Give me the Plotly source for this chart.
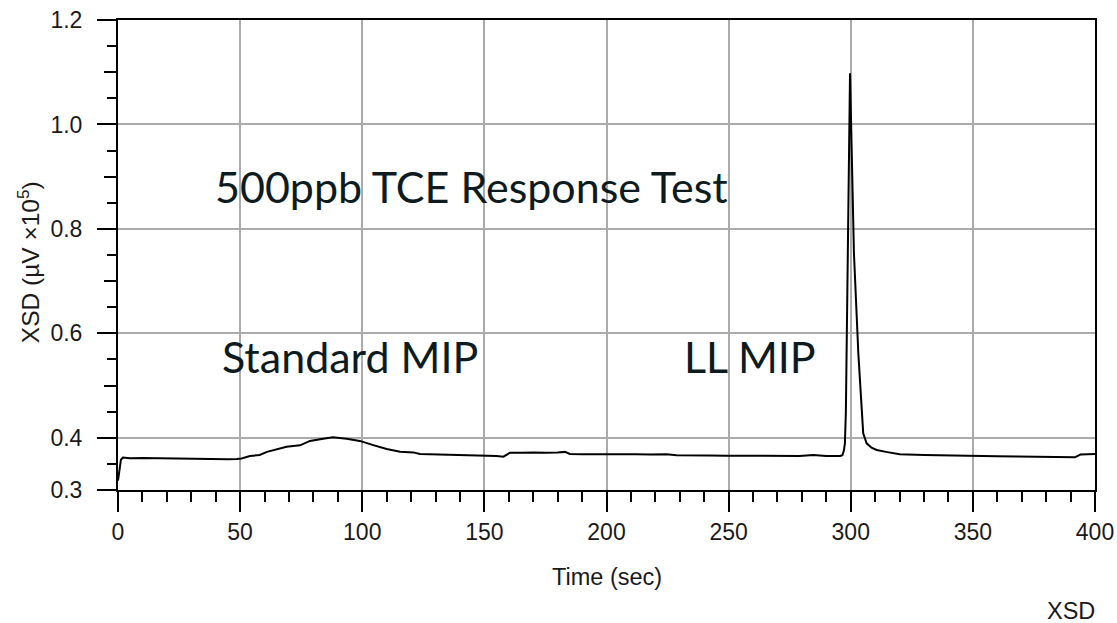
import plotly.graph_objects as go

# XSD detector trace, time in seconds vs signal (µV x 10^5)
time_s = [0, 0.6, 1.2, 2, 5, 10, 15, 20, 25, 30, 35, 40, 45, 48.6, 50.6, 54, 58, 61, 66, 69,
          74.5, 78.6, 84, 88, 93.6, 99, 104.5, 110, 115.5, 121, 123.6, 130, 136, 143, 150,
          155, 157.8, 159, 160.5, 165, 170, 175, 177, 180, 183, 185, 190, 197, 205, 212,
          218, 224.6, 228.7, 235, 242, 249, 257, 265.6, 272, 279, 284.7, 290, 295.6, 296.6,
          297.2, 297.6, 298.0, 298.3, 299.7, 301.3, 303.1, 305.1, 306.5, 308.5, 310.6, 315,
          320, 330, 340, 349.5, 360, 368, 374.8, 383, 391.8, 394, 397, 400]
signal = [0.318, 0.338, 0.358, 0.362, 0.361, 0.3615, 0.361, 0.3605, 0.361, 0.3603, 0.3595,
          0.3593, 0.359, 0.3592, 0.3605, 0.365, 0.367, 0.373, 0.380, 0.383, 0.3856, 0.394,
          0.398, 0.4009, 0.398, 0.394, 0.386, 0.3785, 0.3733, 0.372, 0.369, 0.3682, 0.3676,
          0.3672, 0.3664, 0.365, 0.3638, 0.367, 0.3714, 0.3712, 0.372, 0.3712, 0.371, 0.3718,
          0.373, 0.369, 0.3685, 0.3689, 0.368, 0.3684, 0.368, 0.3683, 0.3664, 0.3668, 0.3662,
          0.3657, 0.3655, 0.365, 0.3656, 0.3652, 0.367, 0.3652, 0.365, 0.3665, 0.376, 0.389,
          0.45, 0.562, 1.098, 0.754, 0.562, 0.4085, 0.3894, 0.381, 0.3766, 0.3725, 0.3683,
          0.3672, 0.366, 0.365, 0.3645, 0.3642, 0.3638, 0.3632, 0.3626, 0.368, 0.3685, 0.369]

y_tickvals = [0.3, 0.4, 0.6, 0.8, 1.0, 1.2]
y_ticktext = ["0.3", "0.4", "0.6", "0.8", "1.0", "1.2"]
y_midticks = [0.5, 0.7, 0.9, 1.1]
x_tickvals = [0, 50, 100, 150, 200, 250, 300, 350, 400]

ARIAL = "Liberation Sans, Arial, sans-serif"
AXIS_FONT = dict(family=ARIAL, size=23, color="#1a1a1a")
TITLE_FONT = dict(family=ARIAL, size=23.5, color="#1a1a1a")
NOTE_FONT = dict(family="Lato, Open Sans, sans-serif", size=43, color="#0d1b1e")
GRID = "#ababab"

fig = go.Figure()
fig.add_trace(go.Scatter(x=time_s, y=signal, mode="lines",
                         line=dict(color="black", width=2), showlegend=False))

fig.update_layout(
    width=1117, height=623,
    margin=dict(l=118, r=22, t=20, b=133),
    paper_bgcolor="white", plot_bgcolor="white",
    xaxis=dict(range=[0, 400], tickvals=x_tickvals, ticks="outside", ticklen=20,
               tickwidth=2, tickcolor="black", showline=True, linewidth=2,
               linecolor="black", mirror=True, showgrid=True, gridcolor=GRID,
               gridwidth=1.5, zeroline=False, tickfont=AXIS_FONT, automargin=False,
               minor=dict(dtick=10, tick0=0, ticks="outside", ticklen=10,
                          tickwidth=2, tickcolor="black", showgrid=False)),
    yaxis=dict(range=[0.3, 1.2], tickvals=y_tickvals, ticktext=y_ticktext,
               ticks="outside", ticklen=19, tickwidth=2, tickcolor="black",
               showline=True, linewidth=2, linecolor="black", mirror=True,
               showgrid=True, gridcolor=GRID, gridwidth=1.5, zeroline=False,
               tickfont=AXIS_FONT, ticklabelstandoff=10, automargin=False,
               minor=dict(dtick=0.05, tick0=0.3, ticks="outside", ticklen=9,
                          tickwidth=2, tickcolor="black", showgrid=False)),
    # medium-length ticks at the unlabeled tenths
    yaxis2=dict(overlaying="y", range=[0.3, 1.2], tickvals=y_midticks,
                showticklabels=False, ticks="outside", ticklen=13, tickwidth=2,
                tickcolor="black", showgrid=False, showline=False, zeroline=False,
                side="left", automargin=False),
)
fig.add_trace(go.Scatter(x=[None], y=[None], yaxis="y2", showlegend=False,
                         hoverinfo="skip"))

fig.add_annotation(x=38.9, y=0.882, xref="x", yref="y", text="500ppb TCE Response Test",
                   showarrow=False, xanchor="left", yanchor="middle", font=NOTE_FONT)
fig.add_annotation(x=41.6, y=0.556, xref="x", yref="y", text="Standard MIP",
                   showarrow=False, xanchor="left", yanchor="middle", font=NOTE_FONT)
fig.add_annotation(x=231.0, y=0.556, xref="x", yref="y", text="LL MIP",
                   showarrow=False, xanchor="left", yanchor="middle", font=NOTE_FONT)

fig.add_annotation(x=0.5, y=-0.185, xref="paper", yref="paper", text="Time (sec)",
                   showarrow=False, xanchor="center", yanchor="middle", font=TITLE_FONT)
fig.add_annotation(x=-0.092, y=0.485, xref="paper", yref="paper",
                   text="XSD (µV ×10<sup>5</sup>)", textangle=-90,
                   showarrow=False, xanchor="center", yanchor="middle",
                   font=dict(family=ARIAL, size=24.5, color="#1a1a1a"))
fig.add_annotation(x=1.002, y=-0.257, xref="paper", yref="paper", text="XSD",
                   showarrow=False, xanchor="right", yanchor="middle", font=TITLE_FONT)

fig.write_html("out.html")
